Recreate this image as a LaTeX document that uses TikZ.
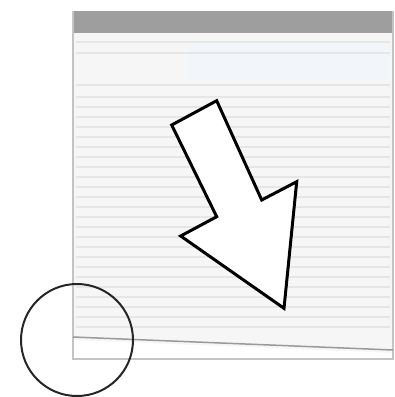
\documentclass[tikz,border=0pt]{standalone}
\usepackage{tikz}
\usepackage{xcolor}
\usetikzlibrary{calc}
\definecolor{barra}{RGB}{158,158,158}
\definecolor{moldura}{RGB}{196,196,196}
\definecolor{fundo}{RGB}{246,246,246}
\definecolor{faixa}{RGB}{230,230,230}
\definecolor{azulclaro}{RGB}{242,245,249}

\begin{document}
\begin{tikzpicture}[x=1pt, y=-1pt]
    \useasboundingbox (0,0) rectangle (395,397);
    % janela
    \fill[fundo] (73,11) rectangle (393,359);
    \fill[azulclaro] (187,44) rectangle (390,80);
    \fill[white] (73,340) -- (393,353) -- (393,359) -- (73,359) -- cycle;
    \fill[barra] (73,11) rectangle (393,33);
    \foreach \y in {42,53,85,97,107,117,127,137,147,157,167,177,187,197,207,217,227,237,247,257,267,277,287,297,307,317,327} {
        \draw[faixa, line width=1.4pt] (76,\y) -- (390,\y);
    }
    \draw[moldura, line width=1.5pt] (73,11) -- (73,359) -- (393,359) -- (393,11);
    % linha inclinada
    \draw[gray!80, line width=1.5pt] (73,337) -- (393,350);
    % seta
    \draw[black, line width=3pt, fill=white, line join=miter]
        (171.7,125) -- (216.7,100.7) -- (261.7,200) -- (296.7,181.7)
        -- (284,308.3) -- (180.7,236) -- (216.7,216.7) -- cycle;
    % lupa
    \draw[black!85, line width=2pt] (77,340) circle (56);
\end{tikzpicture}
\end{document}
